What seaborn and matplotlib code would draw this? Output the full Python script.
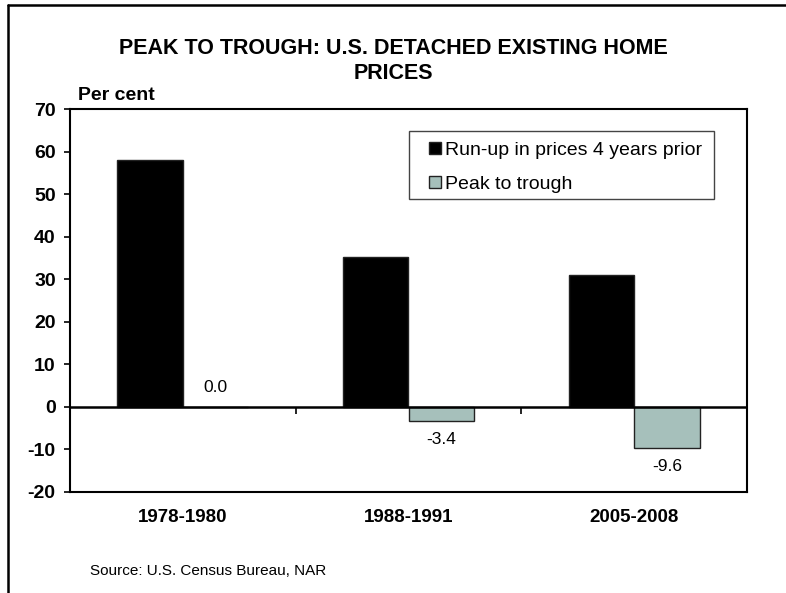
import pandas as pd
import matplotlib.pyplot as plt
import seaborn as sns
from matplotlib.lines import Line2D
from matplotlib.patches import Rectangle

# Data
periods = ['1978-1980', '1988-1991', '2005-2008']
series_names = ['Run-up in prices 4 years prior', 'Peak to trough']
runup = [58.0, 35.2, 31.1]
peak_to_trough = [0.0, -3.4, -9.6]

df = pd.DataFrame({
    'period': periods * 2,
    'series': [series_names[0]] * 3 + [series_names[1]] * 3,
    'value': runup + peak_to_trough,
})

sns.set_style('white')
plt.rcParams['font.family'] = ['Liberation Sans', 'DejaVu Sans']
plt.rcParams['axes.unicode_minus'] = False
plt.rcParams['text.color'] = 'black'
plt.rcParams['xtick.color'] = 'black'
plt.rcParams['ytick.color'] = 'black'

fig = plt.figure(figsize=(7.86, 5.93), dpi=100)
ax = fig.add_axes([70 / 786, 1 - 492 / 593, 677 / 786, 383 / 593])

sns.barplot(
    data=df, x='period', y='value', hue='series',
    palette=['#000000', '#A2C4BE'],
    width=0.58, gap=0, edgecolor='#222222', linewidth=1.0,
    ax=ax,
)

ax.set_ylim(-20, 70)
ax.set_yticks(range(-20, 71, 10))
ax.set_xlim(-0.5, 2.5)

for s in ax.spines.values():
    s.set_visible(True)
    s.set_color('black')
    s.set_linewidth(1.5)

ax.tick_params(axis='y', direction='out', length=4.3, width=1.2, left=True,
               labelsize=14, pad=6)
ax.tick_params(axis='x', length=0, labelsize=13.5, pad=12)
for lbl in ax.get_yticklabels() + ax.get_xticklabels():
    lbl.set_fontweight('bold')

ax.set_xlabel('')
ax.set_ylabel('')

# zero line with category separators
ax.axhline(0, color='black', linewidth=1.8, zorder=5)
ax.vlines([i + 0.5 for i in range(len(periods) - 1)], -1.6, 0,
          color='black', linewidth=1.2, zorder=5)

# value labels for the peak to trough series
for i, v in enumerate(peak_to_trough):
    xpos = i + 0.145
    if v >= 0:
        ax.text(xpos, v + 2.8, f'{v:.1f}', ha='center', va='bottom', fontsize=12.5)
    else:
        ax.text(xpos, v - 2.6, f'{v:.1f}', ha='center', va='top', fontsize=12.5)

# legend: entries without frame, box drawn separately
ax.legend(
    loc='upper left', bbox_to_anchor=(429 / 786, 1 - 142 / 593),
    bbox_transform=fig.transFigure,
    frameon=False, fontsize=14,
    handlelength=0.6, handleheight=0.6, handletextpad=0.2,
    borderpad=0, labelspacing=0.87, borderaxespad=0,
)
fig.add_artist(Rectangle((409 / 786, 1 - 199 / 593), 305 / 786, 68 / 593,
                         fill=False, edgecolor='#444444', linewidth=1.0,
                         transform=fig.transFigure))

fig.text(0.5, 1 - 61 / 593, 'PEAK TO TROUGH: U.S. DETACHED EXISTING HOME\nPRICES',
         ha='center', va='center', fontsize=15.5, fontweight='bold', linespacing=1.2)
fig.text(78 / 786, 1 - 96 / 593, 'Per cent', ha='left', va='center',
         fontsize=14, fontweight='bold')
fig.text(90 / 786, 1 - 571 / 593, 'Source: U.S. Census Bureau, NAR',
         ha='left', va='center', fontsize=11)

# outer border (left and top)
fig.add_artist(Line2D([8 / 786, 8 / 786], [0, 1 - 5 / 593], color='black',
                      linewidth=1.8, transform=fig.transFigure))
fig.add_artist(Line2D([8 / 786, 1], [1 - 5 / 593, 1 - 5 / 593], color='black',
                      linewidth=1.8, transform=fig.transFigure))

plt.savefig('out.png', dpi=100)
